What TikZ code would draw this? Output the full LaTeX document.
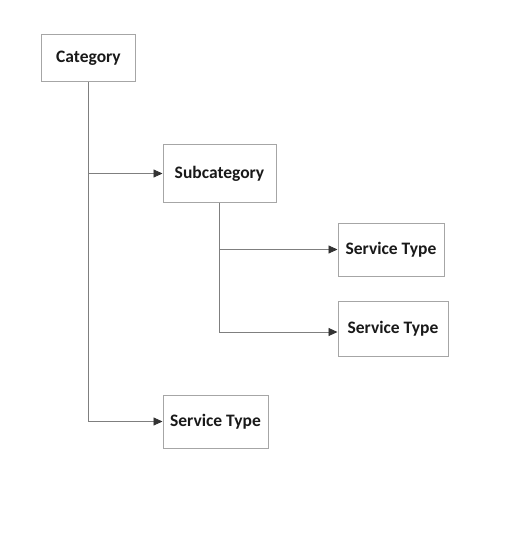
\documentclass[tikz,border=0pt]{standalone}
\usepackage{fontspec}
\setmainfont{Carlito}
\usetikzlibrary{arrows.meta}
\definecolor{boxline}{HTML}{A6A6A6}
\definecolor{connline}{HTML}{7F7F7F}
\begin{document}
\begin{tikzpicture}[x=1pt,y=-1pt,
  box/.style={draw=boxline,line width=1pt,rectangle,inner sep=0pt,
    font=\fontsize{17.5}{20}\selectfont\bfseries,text=black!90},
  conn/.style={draw=connline,line width=0.9pt},
  arr/.style={conn,-{Triangle[length=9pt,width=8pt,color=black!80]}}]
\useasboundingbox (0,0) rectangle (507,556);
\node[box,minimum width=94pt,minimum height=47pt] (cat) at (88.5,58.5) {Category};
\node[box,minimum width=113pt,minimum height=57pt] (sub) at (219.5,173.5) {Subcategory};
\node[box,minimum width=106pt,minimum height=53pt] (st1) at (391,249.5) {Service Type};
\node[box,minimum width=110pt,minimum height=55pt] (st2) at (393,328.5) {Service Type};
\node[box,minimum width=105pt,minimum height=53pt] (st3) at (215.5,421.5) {Service Type};
\coordinate (st2in) at ([yshift=-3.5pt]st2.west);
\draw[arr] (cat.south) |- (sub.west);
\draw[arr] (cat.south) |- (st3.west);
\draw[arr] (sub.south) |- (st1.west);
\draw[arr] (sub.south) |- (st2in);
\end{tikzpicture}
\end{document}
